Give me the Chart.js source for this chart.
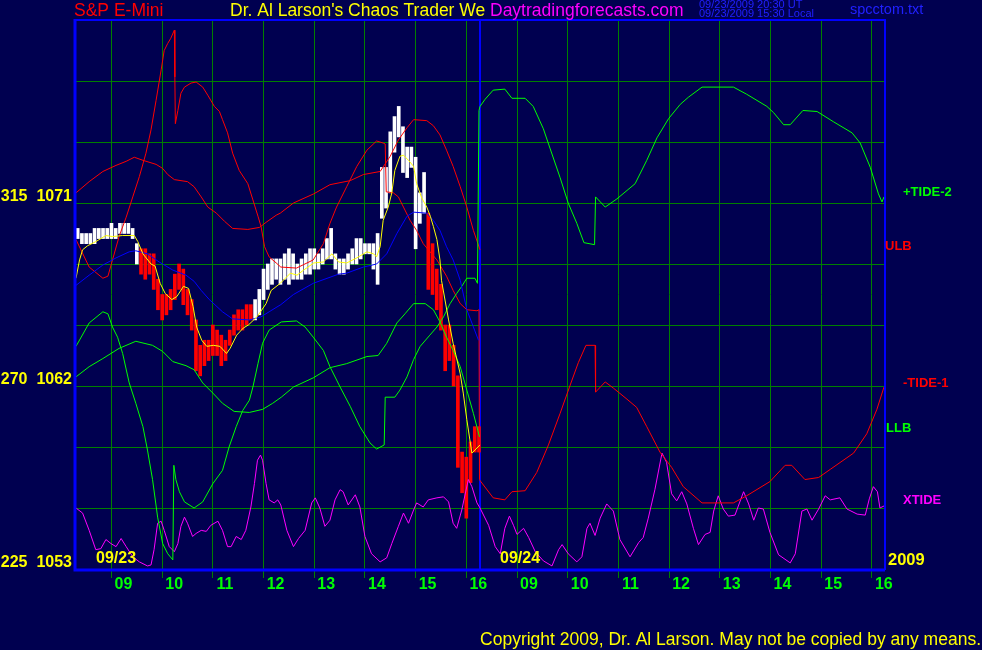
<!DOCTYPE html>
<html>
<head>
<meta charset="utf-8">
<title>S&amp;P E-Mini</title>
<script src="https://cdn.jsdelivr.net/npm/chart.js@4.4.0/dist/chart.umd.min.js"></script>
<style>
  html, body { margin: 0; padding: 0; background: #000050; }
  canvas { display: block; }
</style>
</head>
<body>
<canvas id="grafic" width="982" height="650"></canvas>
<script>
// eixo x em horas de pregão: dia 09/23 = hora do relógio, dia 09/24 = hora + 8
const horas = [9, 10, 11, 12, 13, 14, 15, 16, 17, 18, 19, 20, 21, 22, 23, 24]
const rotulosHora = ['09','10','11','12','13','14','15','16','09','10','11','12','13','14','15','16']
const niveisY = [1053, 1056, 1059, 1062, 1065, 1068, 1071, 1074, 1077, 1080]
const rotulosY = ['225  1053', '', '', '270  1062', '', '', '315  1071', '', '', '']
const separadorDia = 16.27

// barras de 5 minutos, 09/23 das 8:20 às 16:15
const inicioBarras = 8 + 20 / 60
const passoBarras = 5 / 60
const maximas = [1069.75,1069.5,1069.5,1069.5,1069.75,1069.75,1069.75,1069.75,1070,1069.75,
  1070,1070,1070,1069.75,1069,1068.75,1068.75,1068.5,1068.5,1067.25,
  1066.5,1066.5,1066.75,1067.5,1068,1067.75,1066.75,1066.25,1065.25,1064,
  1064.25,1064.25,1065,1064.75,1064.5,1064.25,1064.75,1065.5,1065.75,1065.75,
  1066,1066,1066.25,1066.75,1067.75,1068,1068.25,1068.25,1068.25,1068.5,
  1068.75,1068.5,1068,1068.25,1068.5,1068.75,1068.75,1068.5,1068.75,1069.25,
  1069.75,1068.5,1068.25,1068.25,1068.5,1068.75,1069.25,1069.25,1069,1069,
  1069,1069.5,1072.75,1072.75,1074.5,1075.25,1075.75,1074.75,1073.75,1073.75,
  1073.25,1071.5,1072.5,1070.5,1069,1067.75,1067,1065,1065,1064,
  1062.5,1058.75,1058.5,1059.25,1060,1060]
const minimas = [1069.25,1069,1069,1069,1069,1069.25,1069.25,1069.25,1069.25,1069.25,
  1069.5,1069.5,1069.5,1069.25,1068,1067.5,1067.25,1067.5,1066.75,1065.75,
  1065.25,1065.5,1065.75,1066.25,1066.75,1066,1065.5,1064.75,1062.75,1062.5,
  1063,1063.25,1063.5,1063.5,1063,1063.25,1064,1064.5,1064.75,1064.75,
  1065,1065.25,1065.25,1065.5,1066.25,1066.75,1067,1067.25,1067,1067.25,
  1067,1067.25,1067.25,1067.25,1067.5,1067.5,1067.75,1067.75,1068,1068.25,
  1068.25,1067.75,1067.5,1067.5,1067.75,1068,1068,1068.25,1068.5,1068.5,
  1067.75,1067,1070.25,1070.75,1071.5,1073.5,1074.25,1072.5,1072.25,1072.75,
  1068.75,1070,1070.5,1066.75,1066.5,1065.75,1064.75,1062.75,1063.25,1062,
  1058,1056.75,1055.5,1057.25,1058.75,1058.75]
const altas = [1,1,1,1,1,1,1,1,1,1,
  1,1,1,1,1,0,0,0,0,0,
  0,0,0,0,0,0,0,0,0,0,
  0,0,0,0,0,0,0,0,0,0,
  0,0,1,1,1,1,1,1,1,1,
  1,1,1,1,1,1,1,1,1,1,
  1,1,1,1,1,1,1,1,1,1,
  1,1,1,1,1,1,1,1,1,1,
  1,1,1,0,0,0,0,0,0,0,
  0,0,0,0,0,0]

// médias (amarela curta, azul longa)
const mediaCurta = [[8.30,1067.3],[8.37,1068.2],[8.43,1068.7],[8.53,1068.9],[8.69,1069.1],[8.89,1069.4],[9.02,1069.35],[9.22,1069.4],[9.45,1069.4],[9.52,1069.1],
  [9.62,1068.5],[9.78,1068.0],[9.86,1067.9],[9.96,1067.05],[10.06,1066.55],[10.19,1066.25],[10.29,1066.4],[10.42,1066.9],[10.52,1066.8],[10.61,1065.9],
  [10.68,1064.9],[10.78,1064.25],[10.88,1063.95],[11.01,1064],[11.14,1063.95],[11.27,1063.6],[11.34,1063.85],[11.47,1064.5],[11.60,1064.85],[11.70,1065],
  [11.87,1065.4],[12.05,1066.05],[12.15,1066.7],[12.33,1067.05],[12.53,1067.55],[12.66,1067.45],[12.79,1067.7],[12.99,1068.05],[13.18,1068.1],[13.35,1068.5],
  [13.48,1068.1],[13.64,1068.05],[13.84,1068.3],[14.04,1068.6],[14.17,1068.5],[14.23,1068.35],[14.30,1068.85],[14.36,1070.15],[14.46,1070.8],[14.53,1071.5],
  [14.59,1072.6],[14.69,1073.3],[14.76,1073.35],[14.86,1073.1],[14.96,1072.8],[15.02,1071.95],[15.12,1071.25],[15.22,1070.8],[15.29,1070.35],[15.35,1069.85],
  [15.42,1069.2],[15.48,1068.2],[15.51,1067.2],[15.65,1065.25],[15.74,1064.1],[15.88,1062.6],[15.94,1061.65],[16.01,1060.35],[16.07,1059.35],[16.11,1058.7],
  [16.17,1058.85],[16.27,1059.1]]
const mediaLonga = [[8.30,1066.95],[8.56,1067.45],[8.83,1067.95],[9.09,1068.3],[9.35,1068.6],[9.48,1068.65],[9.71,1068.5],[9.94,1068.1],[10.21,1067.7],[10.47,1067.45],
  [10.63,1067.15],[10.77,1066.7],[10.93,1066.25],[11.19,1065.65],[11.39,1065.3],[11.72,1065.25],[11.95,1065.4],[12.11,1065.65],[12.34,1066],[12.59,1066.5],
  [12.98,1067.05],[13.48,1067.5],[13.64,1067.55],[13.97,1067.85],[14.23,1068],[14.43,1068.5],[14.63,1069.5],[14.83,1070.35],[14.96,1070.55],[15.22,1070.5],
  [15.35,1070.15],[15.48,1069.65],[15.61,1068.85],[15.74,1068.2],[15.88,1067.2],[16.01,1065.75],[16.14,1064.9],[16.24,1064.25]]

// curvas de maré
const tideMenos1 = [[8.30,1069.2],[8.56,1067.85],[8.83,1067.3],[8.93,1067.4],[9.02,1068.2],[9.15,1069.35],[9.29,1070.3],[9.42,1071.3],[9.55,1072.3],[9.68,1073.45],
  [9.78,1074.6],[9.88,1076.05],[9.98,1077.55],[10.04,1078.5],[10.11,1078.85],[10.17,1079.1],[10.24,1079.5],[10.25,1077.2],[10.26,1074.9],[10.31,1075.55],
  [10.37,1076.4],[10.44,1076.7],[10.57,1076.9],[10.67,1076.95],[10.80,1076.7],[10.90,1076.3],[11.03,1075.75],[11.13,1075.5],[11.19,1075.1],[11.29,1074.45],
  [11.39,1073.45],[11.52,1072.6],[11.69,1071.95],[11.79,1071.15],[11.89,1070.35],[11.95,1069.85],[12.02,1068.85],[12.11,1068.35],[12.25,1068.05],[12.34,1067.85],
  [12.65,1067.8],[12.98,1068.2],[13.18,1069],[13.31,1070],[13.44,1070.8],[13.64,1071.8],[13.84,1072.8],[14.04,1073.6],[14.23,1074.05],[14.36,1073.95],
  [14.40,1073.9],[14.42,1071.55],[14.56,1071.5],[14.66,1071.3],[14.76,1070.8],[14.89,1070.15],[15.02,1069.65],[15.15,1069],[15.25,1068.7],[15.42,1068.2],
  [15.61,1067.4],[15.74,1066.7],[15.88,1066.05],[16.01,1065.75],[16.21,1065.7],[16.25,1065.75],[16.26,1057.4],[16.27,1057.35],
  [16.53,1056.5],[16.76,1056.4],[16.90,1056.8],[17.16,1056.85],[17.39,1057.75],[17.62,1059.1],[17.85,1060.65],[18.05,1062.05],[18.21,1063.15],[18.36,1064],
  [18.54,1064],[18.55,1061.7],[18.74,1062.2],[18.90,1061.9],[19.17,1061.35],[19.36,1060.95],[19.56,1060],[19.82,1058.75],[20.05,1058],[20.28,1057.05],
  [20.65,1056.25],[21.27,1056.25],[21.53,1056.6],[21.99,1057.3],[22.29,1058.1],[22.42,1058.1],[22.68,1057.4],[22.95,1057.5],[23.18,1057.9],[23.64,1058.7],
  [23.90,1059.65],[24.10,1060.85],[24.24,1061.95]]
const ulb = [[8.30,1071.5],[8.56,1072.05],[8.83,1072.55],[9.09,1072.85],[9.29,1073.05],[9.45,1073.25],[9.62,1073.1],[9.88,1072.9],[10.01,1072.7],[10.11,1072.4],
  [10.24,1072.15],[10.50,1072.05],[10.63,1071.8],[10.77,1071.3],[10.90,1070.8],[11.07,1070.5],[11.23,1070.1],[11.39,1069.75],[11.69,1069.7],[11.92,1069.8],
  [12.05,1070.05],[12.25,1070.4],[12.33,1070.5],[12.59,1071],[12.99,1071.45],[13.31,1071.9],[13.71,1072.1],[13.97,1072.4],[14.30,1072.55],[14.50,1073.3],
  [14.66,1074.1],[14.83,1074.7],[14.96,1075.1],[15.22,1075.05],[15.35,1074.8],[15.48,1074.35],[15.61,1073.6],[15.74,1072.8],[15.88,1071.8],[16.01,1070.8],
  [16.14,1069.65],[16.27,1068.7]]
const tideMais2 = [[8.30,1063.95],[8.56,1065.1],[8.83,1065.65],[8.93,1065.55],[9.02,1064.9],[9.12,1064.4],[9.22,1063.6],[9.35,1062.15],[9.48,1061.15],[9.62,1060],
  [9.71,1058.85],[9.81,1057.4],[9.91,1055.55],[10.01,1054.25],[10.11,1053.75],[10.21,1053.45],[10.23,1058.1],[10.27,1057.4],[10.34,1056.8],[10.44,1056.3],
  [10.63,1056],[10.80,1056.3],[11.00,1057.2],[11.19,1057.85],[11.32,1059],[11.46,1060],[11.59,1060.8],[11.72,1061.3],[11.79,1061.95],[11.89,1063.1],
  [11.98,1064.1],[12.11,1064.75],[12.35,1065.15],[12.65,1065.2],[12.82,1064.9],[12.98,1064.4],[13.18,1063.75],[13.31,1062.95],[13.51,1061.95],[13.71,1061],
  [13.90,1060],[14.10,1059.2],[14.23,1058.9],[14.38,1059.1],[14.40,1061.45],[14.59,1061.45],[14.69,1061.8],[14.83,1062.45],[14.96,1063.3],[15.09,1063.95],
  [15.28,1064.5],[15.42,1064.9],[15.55,1065.4],[15.68,1066.05],[15.81,1066.55],[15.91,1066.9],[16.01,1067.3],[16.17,1067.3],[16.22,1067.05],[16.25,1075.55],
  [16.27,1075.75],[16.37,1076.1],[16.53,1076.55],[16.76,1076.6],[16.90,1076.15],[17.16,1076.15],[17.32,1075.75],[17.52,1074.65],[17.65,1073.7],[17.85,1072.25],
  [18.01,1071],[18.18,1070],[18.32,1069.05],[18.53,1068.95],[18.55,1071.3],[18.74,1070.8],[18.97,1071.2],[19.33,1071.95],[19.56,1073.1],[19.76,1074.2],
  [19.99,1075.15],[20.22,1075.85],[20.38,1076.2],[20.65,1076.7],[21.27,1076.7],[21.53,1076.35],[21.93,1075.75],[22.06,1075.45],[22.26,1074.85],[22.39,1074.85],
  [22.64,1075.55],[22.92,1075.5],[23.24,1075],[23.61,1074.45],[23.77,1073.95],[23.97,1072.75],[24.13,1071.45],[24.20,1071.05],[24.24,1071.3]]
const llb = [[8.30,1062.45],[8.56,1062.95],[8.83,1063.35],[9.15,1063.85],[9.48,1064.2],[9.81,1064],[10.01,1063.7],[10.21,1063.2],[10.47,1063],[10.63,1062.8],
  [10.80,1062.15],[11.00,1061.65],[11.19,1061.15],[11.42,1060.75],[11.72,1060.7],[11.98,1060.85],[12.18,1061.15],[12.35,1061.45],[12.59,1061.95],[12.98,1062.4],
  [13.31,1062.9],[13.64,1063.1],[14.04,1063.45],[14.26,1063.5],[14.43,1064.1],[14.63,1065.1],[14.79,1065.55],[14.96,1066.05],[15.19,1066.05],[15.35,1065.75],
  [15.48,1065.15],[15.61,1064.4],[15.74,1063.75],[15.88,1062.95],[16.01,1061.8],[16.14,1060.65],[16.26,1059.5]]
const xtide = [[8.30,1056],[8.43,1055.75],[8.56,1054.9],[8.69,1053.95],[8.79,1054],[8.89,1054.45],[8.99,1054.25],[9.09,1054.1],[9.19,1054.5],[9.29,1054.1],
  [9.42,1053.6],[9.55,1053.35],[9.71,1053.15],[9.78,1053.2],[9.84,1053.95],[9.91,1055.25],[9.98,1055.35],[10.04,1054.9],[10.14,1054.1],[10.24,1053.85],
  [10.31,1054.25],[10.37,1055.1],[10.44,1055.55],[10.50,1055.25],[10.60,1054.6],[10.67,1054.75],[10.77,1054.9],[10.87,1054.85],[10.96,1055.15],[11.10,1055.35],
  [11.19,1054.9],[11.29,1054.1],[11.36,1054.1],[11.46,1054.6],[11.56,1054.45],[11.65,1054.9],[11.75,1056.05],[11.82,1057.2],[11.88,1058.35],[11.94,1058.6],
  [11.98,1058.35],[12.05,1057.2],[12.11,1056.4],[12.21,1056.25],[12.28,1056.4],[12.34,1056.15],[12.46,1054.9],[12.59,1054.1],[12.69,1054.5],[12.82,1054.9],
  [12.95,1056.25],[13.02,1056.5],[13.11,1056],[13.21,1055.1],[13.31,1055.4],[13.41,1056.4],[13.51,1056.9],[13.57,1056.8],[13.67,1056.15],[13.81,1056.65],
  [13.90,1056.05],[14.00,1054.6],[14.13,1053.75],[14.30,1053.35],[14.43,1053.55],[14.53,1054.25],[14.66,1055.1],[14.76,1055.75],[14.86,1055.25],[14.96,1055.9],
  [15.02,1056.25],[15.15,1056.05],[15.25,1056.4],[15.42,1056.5],[15.55,1056.55],[15.65,1056.3],[15.74,1055.25],[15.81,1055],[15.91,1055.9],[16.04,1057.4],
  [16.11,1057.05],[16.21,1056.25],[16.27,1056],[16.44,1055.15],[16.57,1054.1],[16.67,1053.75],[16.76,1055],[16.85,1055.6],[16.93,1055.15],[17.00,1054.7],
  [17.13,1055],[17.23,1054.55],[17.36,1053.85],[17.52,1053.4],[17.69,1053.15],[17.82,1053.95],[17.89,1054.2],[18.01,1053.75],[18.18,1053.35],[18.28,1053.6],
  [18.38,1055],[18.44,1055.25],[18.54,1054.65],[18.64,1055.5],[18.77,1056.2],[18.90,1055.85],[19.03,1054.45],[19.23,1053.6],[19.40,1054.3],[19.49,1054.55],
  [19.59,1055.5],[19.72,1056.9],[19.86,1058.7],[19.95,1058.25],[20.05,1056.7],[20.15,1056.35],[20.25,1056.8],[20.35,1056.2],[20.48,1055],[20.58,1054.2],
  [20.71,1054.7],[20.81,1054.8],[20.88,1055.85],[20.97,1056.6],[21.07,1055.95],[21.17,1055.6],[21.30,1055.65],[21.47,1056.8],[21.57,1056.2],[21.67,1055.4],
  [21.76,1056],[21.86,1055.95],[21.99,1054.8],[22.16,1053.7],[22.39,1053.3],[22.49,1053.75],[22.62,1055.85],[22.72,1055.95],[22.82,1055.4],[22.95,1055.95],
  [23.08,1056.6],[23.18,1056.4],[23.37,1056.5],[23.51,1055.95],[23.71,1055.7],[23.87,1055.65],[23.95,1056.45],[24.03,1057.05],[24.11,1056.8],[24.16,1056],
  [24.24,1056.1]]

const FUNDO = '#000050'
const FONTE = '"Liberation Sans", Arial, sans-serif'

function pontos(lista) {
    return lista.map(p => ({ x: p[0], y: p[1] }))
}

function linha(rotulo, lista, cor, ordem) {
    return {
        type: 'line',
        label: rotulo,
        data: pontos(lista),
        borderColor: cor,
        borderWidth: 1,
        pointRadius: 0,
        tension: 0,
        fill: false,
        order: ordem
    }
}

let barras = maximas.map((h, i) => ({ x: inicioBarras + i * passoBarras, y: [minimas[i], h] }))

/* --------- textos, moldura e separador -------- */
const moldura = {
    id: 'moldura',
    beforeDraw(chart) {
        const c = chart.ctx
        c.save()
        c.fillStyle = FUNDO
        c.fillRect(0, 0, chart.width, chart.height)
        c.restore()
    },
    beforeDatasetsDraw(chart) {
        const c = chart.ctx
        const a = chart.chartArea
        const x = Math.round(chart.scales.x.getPixelForValue(separadorDia))
        c.save()
        c.strokeStyle = '#0000ff'
        c.lineWidth = 2
        c.beginPath()
        c.moveTo(x, a.top)
        c.lineTo(x, a.bottom)
        c.stroke()
        c.restore()
    },
    afterDraw(chart) {
        const c = chart.ctx
        const a = chart.chartArea
        c.save()
        // borda azul do gráfico
        c.strokeStyle = '#0000ff'
        c.lineWidth = 3
        c.beginPath()
        c.moveTo(a.left - 1, a.top - 1)
        c.lineTo(a.left - 1, a.bottom + 1)
        c.lineTo(a.right + 1, a.bottom + 1)
        c.stroke()
        c.lineWidth = 2
        c.beginPath()
        c.moveTo(a.left - 1, a.top)
        c.lineTo(a.right + 1, a.top)
        c.lineTo(a.right + 1, a.bottom + 1)
        c.stroke()

        c.textBaseline = 'middle'
        c.textAlign = 'left'
        const escreve = (txt, x, y, cor, fonte) => {
            c.font = fonte
            c.fillStyle = cor
            c.fillText(txt, x, y)
        }
        const normal = '17.5px ' + FONTE
        escreve('S&P E-Mini', 74, 11, '#ff0000', normal)
        escreve("Dr. Al Larson's Chaos Trader We", 230, 11, '#ffff00', normal)
        escreve('Daytradingforecasts.com', 490, 11, '#ff00ff', normal)
        escreve('09/23/2009 20:30 UT', 699, 5, '#2020ff', '11px ' + FONTE)
        escreve('09/23/2009 15:30 Local', 699, 14, '#2020ff', '11px ' + FONTE)
        escreve('spcctom.txt', 850, 10, '#2020ff', '14.5px ' + FONTE)

        const rotulo = 'bold 13px ' + FONTE
        escreve('+TIDE-2', 903, 192, '#00ff00', rotulo)
        escreve('ULB', 885, 246, '#ff0000', rotulo)
        escreve('-TIDE-1', 903, 383, '#ff0000', rotulo)
        escreve('LLB', 886, 428, '#00ff00', rotulo)
        escreve('XTIDE', 903, 500, '#ff00ff', rotulo)

        const datas = 'bold 16px ' + FONTE
        escreve('09/23', 96, 559, '#ffff00', datas)
        escreve('09/24', 500, 559, '#ffff00', datas)
        escreve('2009', 888, 560, '#ffff00', 'bold 16.5px ' + FONTE)

        c.textAlign = 'right'
        escreve('Copyright 2009, Dr. Al Larson. May not be copied by any means.', 981, 640, '#ffff00', normal)
        c.restore()
    }
}

function criarGrafico() {
    let ctx = document.getElementById('grafic').getContext('2d')

    const data = {
        datasets: [
            linha('média curta', mediaCurta, '#ffff00', 0),
            linha('média longa', mediaLonga, '#0000ff', 1),
            linha('+TIDE-2', tideMais2, '#00ff00', 2),
            linha('LLB', llb, '#00ff00', 2),
            linha('-TIDE-1', tideMenos1, '#ff0000', 2),
            linha('ULB', ulb, '#ff0000', 2),
            linha('XTIDE', xtide, '#ff00ff', 2),
            {
                type: 'bar',
                label: 'S&P E-Mini',
                data: barras,
                backgroundColor: altas.map(v => v ? '#ffffff' : '#ff0000'),
                borderWidth: 0,
                barThickness: 3,
                order: 5
            }
        ]
    }

    const config = {
        type: 'line',
        data: data,
        plugins: [moldura],
        options: {
            responsive: false,
            animation: false,
            devicePixelRatio: 1,
            layout: { padding: { top: 20, right: 98, left: 0, bottom: 0 } },
            plugins: {
                legend: { display: false },
                tooltip: { enabled: false },
                title: { display: false }
            },
            scales: {
                x: {
                    type: 'linear',
                    min: 8.30,
                    max: 24.24,
                    offset: false,
                    afterBuildTicks: s => { s.ticks = horas.map(v => ({ value: v })) },
                    afterFit: s => { s.height = 81 },
                    grid: { color: '#008000', lineWidth: 1, tickLength: 9, offset: false },
                    border: { display: false },
                    ticks: {
                        color: '#00ff00',
                        font: { family: FONTE, size: 16, weight: 'bold' },
                        labelOffset: 12,
                        padding: -3,
                        maxRotation: 0,
                        autoSkip: false,
                        callback: (v, i) => rotulosHora[i]
                    }
                },
                y: {
                    type: 'linear',
                    min: 1053,
                    max: 1080,
                    afterBuildTicks: s => { s.ticks = niveisY.map(v => ({ value: v })) },
                    afterFit: s => { s.width = 76 },
                    grid: { color: '#008000', lineWidth: 1, drawTicks: false },
                    border: { display: false },
                    ticks: {
                        color: '#ffff00',
                        font: { family: FONTE, size: 16, weight: 'bold' },
                        padding: 4,
                        labelOffset: -6,
                        autoSkip: false,
                        callback: (v, i) => rotulosY[i]
                    }
                }
            }
        }
    }

    grafic = new Chart(ctx, config)
}

let grafic = null
criarGrafico()
</script>
</body>
</html>
